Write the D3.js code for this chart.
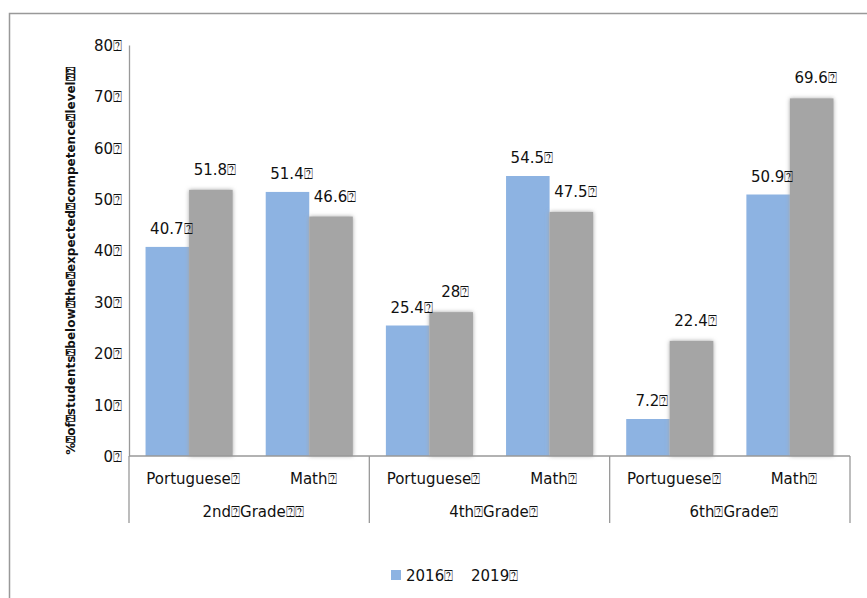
<!DOCTYPE html>
<html>
<head>
<meta charset="utf-8">
<script src="https://cdn.jsdelivr.net/npm/d3@7"></script>
<style>
  body { margin: 0; background: #fff; }
  text { font-family: "DejaVu Sans", sans-serif; fill: #111; }
</style>
</head>
<body>
<svg id="chart" width="867" height="598"></svg>
<script>
// --- data ---
const BOX = "\u2370"; // stands in for the missing-glyph boxes of the original
const grades = ["2nd" + BOX + "Grade" + BOX + BOX, "4th" + BOX + "Grade" + BOX, "6th" + BOX + "Grade" + BOX];
const subjects = ["Portuguese", "Math"];
const series = ["2016", "2019"];
const values2016 = [40.7, 51.4, 25.4, 54.5, 7.2, 50.9];
const values2019 = [51.8, 46.6, 28, 47.5, 22.4, 69.6];
const yTicks = [0, 10, 20, 30, 40, 50, 60, 70, 80];
const colors = { "2016": "#8DB3E2", "2019": "#A5A5A5" };

const svg = d3.select("#chart");

// outer frame (right and bottom edges fall outside the picture)
svg.append("path")
  .attr("d", "M9.5,598 V13.5 H867")
  .attr("fill", "none").attr("stroke", "#999").attr("stroke-width", 1.5);

// soft shadow for the grey bars
const defs = svg.append("defs");
const f = defs.append("filter").attr("id", "soft")
  .attr("x", "-20%").attr("y", "-20%").attr("width", "140%").attr("height", "140%");
f.append("feGaussianBlur").attr("in", "SourceGraphic").attr("stdDeviation", 2.3).attr("result", "b");
f.append("feMerge").selectAll("feMergeNode").data(["b", "SourceGraphic"]).join("feMergeNode").attr("in", d => d);

// category keys: grade index + subject
const cats = [];
grades.forEach((g, gi) => subjects.forEach(s => cats.push(gi + "|" + s)));

const rows = cats.map((c, i) => ({ key: c, gi: Math.floor(i / 2), subject: c.split("|")[1],
  vals: [{ s: "2016", v: values2016[i] }, { s: "2019", v: values2019[i] }] }));

const x0 = d3.scaleBand().domain(cats).range([129, 850]).padding(0);
const x1 = d3.scaleBand().domain(series).range([0, x0.bandwidth()]).paddingInner(0).paddingOuter(0.38);
const y = d3.scaleLinear().domain([0, 80]).range([456, 45]);

// y axis
const yAxis = svg.append("g").attr("transform", "translate(129,0)")
  .call(d3.axisLeft(y).tickValues(yTicks).tickSize(0).tickPadding(7).tickFormat(d => d + BOX));
yAxis.select(".domain").attr("stroke", "#999").attr("stroke-width", 1.3);
yAxis.selectAll("text").attr("font-size", 15).attr("font-family", "DejaVu Sans").attr("fill", "#111").attr("dy", "0.36em");

// bars
const cg = svg.append("g").selectAll("g").data(rows).join("g")
  .attr("transform", d => `translate(${x0(d.key)},0)`);

cg.selectAll("rect").data(d => d.vals).join("rect")
  .attr("x", d => x1(d.s))
  .attr("y", d => y(d.v))
  .attr("width", x1.bandwidth())
  .attr("height", d => y(0) - y(d.v))
  .attr("fill", d => colors[d.s])
  .attr("filter", d => d.s === "2019" ? "url(#soft)" : null);

cg.selectAll("text.val").data(d => d.vals).join("text")
  .attr("class", "val")
  .attr("x", d => x1(d.s) + x1.bandwidth() / 2 + 4)
  .attr("y", d => y(d.v) - (d.s === "2019" ? 15 : 13))
  .attr("text-anchor", "middle").attr("font-size", 15)
  .text(d => d.v + BOX);

// category axis: baseline, separators, labels
svg.append("line").attr("x1", 129).attr("x2", 850).attr("y1", y(0)).attr("y2", y(0))
  .attr("stroke", "#999").attr("stroke-width", 1.3);

const seps = grades.map((g, gi) => x0(gi + "|" + subjects[0])).concat([x0.range()[1]]);
svg.append("g").selectAll("line").data(seps).join("line")
  .attr("x1", d => d).attr("x2", d => d).attr("y1", y(0)).attr("y2", 523)
  .attr("stroke", "#999").attr("stroke-width", 1.3);

svg.append("g").selectAll("text").data(rows).join("text")
  .attr("x", d => x0(d.key) + x0.bandwidth() / 2 + 4)
  .attr("y", 484)
  .attr("text-anchor", "middle").attr("font-size", 15)
  .text(d => d.subject + BOX);

svg.append("g").selectAll("text").data(grades).join("text")
  .attr("x", (d, gi) => x0(gi + "|" + subjects[0]) + x0.bandwidth() + 4)
  .attr("y", 517)
  .attr("text-anchor", "middle").attr("font-size", 15)
  .text(d => d);

// y title
svg.append("text")
  .attr("transform", `translate(75,261) rotate(-90)`)
  .attr("text-anchor", "middle").attr("font-size", 12).attr("font-weight", "bold")
  .text(["%", "of", "students", "below", "the", "expected", "competence", "level", ""].join(BOX) + BOX);

// legend (the 2019 swatch does not show in the original)
const leg = svg.append("g").attr("transform", "translate(391,570)");
leg.append("rect").attr("width", 10).attr("height", 10).attr("fill", colors["2016"]);
leg.append("text").attr("x", 15).attr("y", 11).attr("font-size", 15).text(series[0] + BOX);
leg.append("text").attr("x", 80).attr("y", 11).attr("font-size", 15).text(series[1] + BOX);
</script>
</body>
</html>
